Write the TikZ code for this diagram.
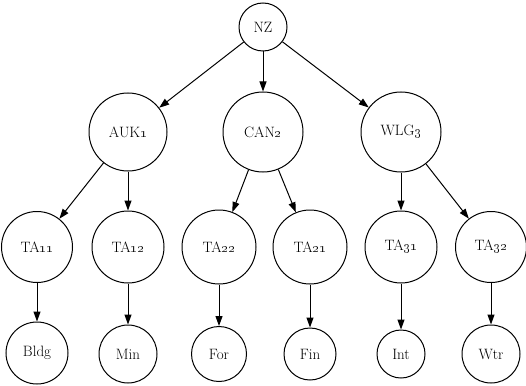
\documentclass[tikz,border=0pt]{standalone}
\usetikzlibrary{arrows.meta}
\begin{document}
\begin{tikzpicture}[x=1pt,y=-1pt,
  nd/.style={draw,circle,line width=1pt,inner sep=0pt,font=\fontsize{15}{17}\selectfont},
  ar/.style={line width=1pt,-{Triangle[length=10pt,width=7pt]}}]
\useasboundingbox (0,0) rectangle (526,385);
\node[nd,minimum size=48pt] (nz) at (263,27) {NZ};
\node[nd,minimum size=78pt] (auk) at (128,132) {AUK\oldstylenums{1}};
\node[nd,minimum size=80pt] (can) at (263,132) {CAN\oldstylenums{2}};
\node[nd,minimum size=80pt] (wlg) at (401,132) {WLG\oldstylenums{3}};
\node[nd,minimum size=71pt] (ta11) at (37,247) {TA\oldstylenums{11}};
\node[nd,minimum size=72pt] (ta12) at (128,247) {TA\oldstylenums{12}};
\node[nd,minimum size=74pt] (ta22) at (219,247) {TA\oldstylenums{22}};
\node[nd,minimum size=74pt] (ta21) at (310,247) {TA\oldstylenums{21}};
\node[nd,minimum size=72pt] (ta31) at (401,247) {TA\oldstylenums{31}};
\node[nd,minimum size=71pt] (ta32) at (491,247) {TA\oldstylenums{32}};
\node[nd,minimum size=62pt] (bldg) at (37,353) {Bldg};
\node[nd,minimum size=58pt] (min) at (128,354) {Min};
\node[nd,minimum size=55pt] (for) at (219,354) {For};
\node[nd,minimum size=52pt] (fin) at (310,354) {Fin};
\node[nd,minimum size=48pt] (int) at (401,354) {Int};
\node[nd,minimum size=58pt] (wtr) at (491,354) {Wtr};
\draw[ar] (nz) -- (auk);
\draw[ar] (nz) -- (can);
\draw[ar] (nz) -- (wlg);
\draw[ar] (auk) -- (ta11);
\draw[ar] (auk) -- (ta12);
\draw[ar] (can) -- (ta22);
\draw[ar] (can) -- (ta21);
\draw[ar] (wlg) -- (ta31);
\draw[ar] (wlg) -- (ta32);
\draw[ar] (ta11) -- (bldg);
\draw[ar] (ta12) -- (min);
\draw[ar] (ta22) -- (for);
\draw[ar] (ta21) -- (fin);
\draw[ar] (ta31) -- (int);
\draw[ar] (ta32) -- (wtr);
\end{tikzpicture}
\end{document}
